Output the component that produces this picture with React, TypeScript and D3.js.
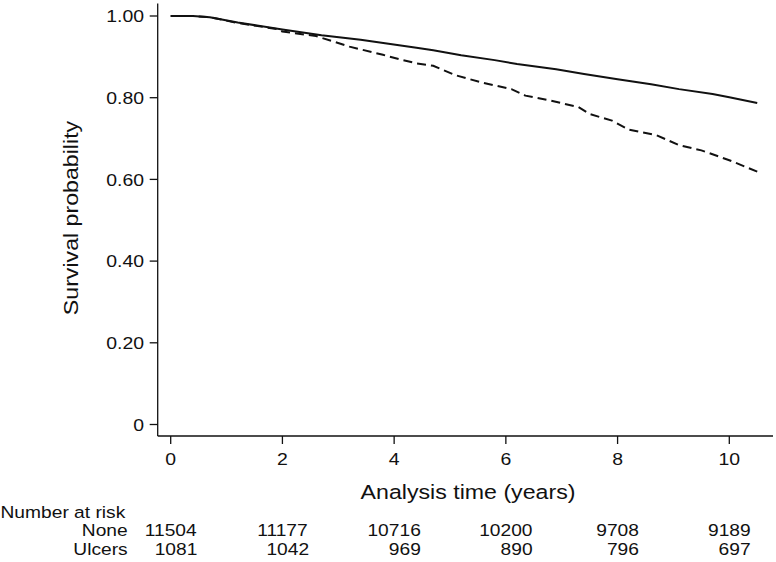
import React from "react";
import * as d3 from "d3";

const xTicks = [0, 2, 4, 6, 8, 10];
const yTicks = [0, 0.2, 0.4, 0.6, 0.8, 1.0];
const yTickLabels = ["0", "0.20", "0.40", "0.60", "0.80", "1.00"];

const noneTime = [0, 0.4, 0.7, 1.2, 2.0, 2.7, 3.4, 3.9, 4.4, 4.7, 5.2, 5.8, 6.2, 6.9, 7.4, 8.0, 8.6, 9.1, 9.7, 10.0, 10.5];
const noneSurv = [1.0, 1.0, 0.997, 0.984, 0.967, 0.953, 0.942, 0.932, 0.922, 0.916, 0.904, 0.892, 0.8825, 0.8695, 0.858, 0.845, 0.833, 0.821, 0.809, 0.801, 0.787];

const ulcTime = [0, 0.4, 0.7, 1.2, 1.9, 2.0, 2.6, 3.2, 3.8, 4.1, 4.4, 4.7, 5.1, 5.6, 6.1, 6.35, 6.8, 7.3, 7.5, 7.9, 8.2, 8.7, 9.1, 9.5, 10.0, 10.5];
const ulcSurv = [1.0, 1.0, 0.997, 0.983, 0.968, 0.962, 0.951, 0.925, 0.905, 0.894, 0.884, 0.878, 0.855, 0.836, 0.821, 0.805, 0.793, 0.777, 0.76, 0.744, 0.722, 0.708, 0.684, 0.671, 0.647, 0.619];

const riskTimes = [0, 2, 4, 6, 8, 10];
const riskNone = ["11504", "11177", "10716", "10200", "9708", "9189"];
const riskUlcers = ["1081", "1042", "969", "890", "796", "697"];

const FONT = "'Liberation Sans', Arial, Helvetica, sans-serif";
const SX = 1.13;

const W = 776;
const H = 562;
const axisX = 157.7;
const axisY = 436;
const axisTop = 3.5;
const axisRight = 773;

const x = d3.scaleLinear().domain([0, 10]).range([170.7, 729.3]);
const y = d3.scaleLinear().domain([0, 1]).range([424.5, 16]);

function T({ x: tx, y: ty, anchor = "start", size = 17, rotate = 0, children }: any) {
  const tr = `translate(${tx},${ty})${rotate ? ` rotate(${rotate})` : ""} scale(${SX},1)`;
  return (
    <text transform={tr} textAnchor={anchor} fontSize={size} fontFamily={FONT} fill="#111">
      {children}
    </text>
  );
}

export default function App() {
  const line = d3
    .line<[number, number]>()
    .x((d) => x(d[0]))
    .y((d) => y(d[1]))
    .curve(d3.curveLinear);
  const noneData = noneTime.map((t, i) => [t, noneSurv[i]] as [number, number]);
  const ulcData = ulcTime.map((t, i) => [t, ulcSurv[i]] as [number, number]);
  const tableSize = 17;
  const digitW = 0.556 * tableSize * SX;

  return (
    <svg
      width={W}
      height={H}
      style={{ position: "absolute", left: 0, top: 0, background: "#fff" }}
    >
      <rect x={0} y={0} width={W} height={H} fill="#fff" />
      {/* axes */}
      <line x1={axisX} x2={axisX} y1={axisTop} y2={axisY} stroke="#111" strokeWidth={1.3} />
      <line x1={axisX} x2={axisRight} y1={axisY} y2={axisY} stroke="#111" strokeWidth={1.3} />
      {yTicks.map((v, i) => (
        <g key={"yt" + i}>
          <line x1={axisX - 8} x2={axisX} y1={y(v)} y2={y(v)} stroke="#111" strokeWidth={1.3} />
          <T x={144} y={y(v) + 6.2} anchor="end" size={17.2}>
            {yTickLabels[i]}
          </T>
        </g>
      ))}
      {xTicks.map((v, i) => (
        <g key={"xt" + i}>
          <line x1={x(v)} x2={x(v)} y1={axisY} y2={axisY + 8} stroke="#111" strokeWidth={1.3} />
          <T x={x(v)} y={465} anchor="middle" size={17.2}>
            {String(v)}
          </T>
        </g>
      ))}
      <T x={468} y={498.5} anchor="middle" size={20.5}>
        Analysis time (years)
      </T>
      <T x={78} y={218} anchor="middle" size={20.5} rotate={-90}>
        Survival probability
      </T>
      {/* curves */}
      <path d={line(noneData) || ""} fill="none" stroke="#111" strokeWidth={2} strokeLinejoin="round" />
      <path
        d={line(ulcData) || ""}
        fill="none"
        stroke="#111"
        strokeWidth={2}
        strokeDasharray="9,5"
      />
      {/* number at risk */}
      <T x={0.5} y={517.5} anchor="start" size={tableSize}>
        Number at risk
      </T>
      <T x={127.7} y={536} anchor="end" size={tableSize}>
        None
      </T>
      <T x={127.7} y={554.5} anchor="end" size={tableSize}>
        Ulcers
      </T>
      {riskTimes.map((t, i) => (
        <g key={"r" + i}>
          <T x={x(t)} y={536} anchor="middle" size={tableSize}>
            {riskNone[i]}
          </T>
          <T x={x(t) + (riskNone[i].length * digitW) / 2} y={554.5} anchor="end" size={tableSize}>
            {riskUlcers[i]}
          </T>
        </g>
      ))}
    </svg>
  );
}
